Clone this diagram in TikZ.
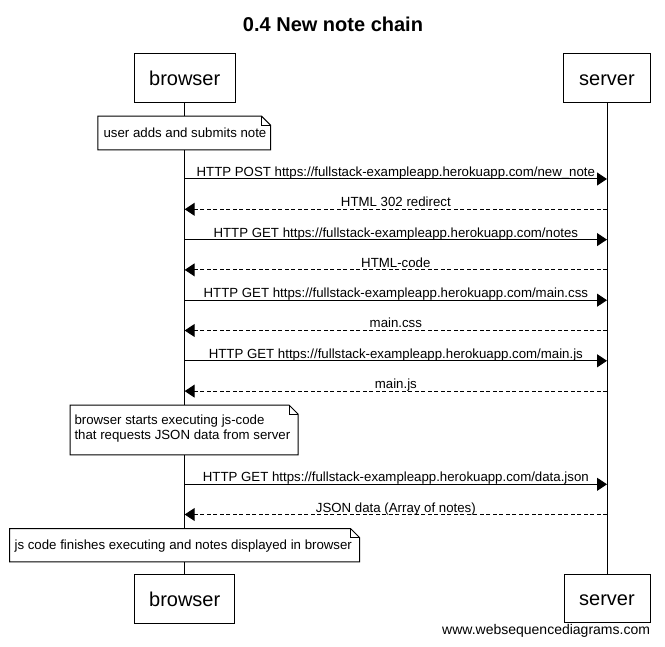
\documentclass[tikz,border=0pt]{standalone}
\usepackage{fontspec}
\setmainfont{Liberation Sans}
\usetikzlibrary{arrows.meta}
\begin{document}
\begin{tikzpicture}[x=1pt,y=-1pt,line width=1pt,
  actor/.style={draw,fill=white,inner sep=0pt,font=\fontsize{20}{24}\selectfont,text height=14.5pt,text depth=0pt},
  notebox/.style={inner sep=0pt},
  notetext/.style={inner sep=0pt,font=\fontsize{13.25}{15}\selectfont,align=left},
  notefill/.style={draw,fill=white},
  msg/.style={-{Triangle[length=10pt,width=13pt]}},
  reply/.style={msg,dash pattern=on 4pt off 2.5pt},
  lbl/.style={inner sep=0pt,anchor=base,font=\fontsize{13.25}{15}\selectfont},
  titlestyle/.style={inner sep=0pt,anchor=base,font=\bfseries\fontsize{20}{24}\selectfont},
  wmark/.style={inner sep=0pt,anchor=base east,font=\fontsize{14}{16}\selectfont}]
\useasboundingbox (0,0) rectangle (665,647);

\node[titlestyle] (title) at (333,31.3) {0.4 New note chain};

% participants
\node[actor,minimum width=101pt,minimum height=49pt] (bt) at (184.7,78.3) {browser};
\node[actor,minimum width=87pt,minimum height=49.5pt] (st) at (607,78) {server};
\node[actor,minimum width=100.5pt,minimum height=49pt] (bb) at (184.7,598.8) {browser};
\node[actor,minimum width=86pt,minimum height=48.7pt] (sb) at (607,598.4) {server};

% lifelines
\draw (bt) -- (bb);
\draw (st) -- (sb);

% message anchor points
\foreach \i/\yy in {1/179,2/209.3,3/239.6,4/269.9,5/300.2,6/330.5,7/360.8,8/391.1,9/484.3,10/514.5}{
  \coordinate (b\i) at (bt |- 0,\yy);
  \coordinate (s\i) at (st |- 0,\yy);
}

\draw[msg] (b1) -- (s1) node[lbl,midway,yshift=2.5pt] (m1) {HTTP POST https://fullstack-exampleapp.herokuapp.com/new\_note};
\draw[reply] (s2) -- (b2) node[lbl,midway,yshift=2.5pt] (m2) {HTML 302 redirect};
\draw[msg] (b3) -- (s3) node[lbl,midway,yshift=2.5pt] (m3) {HTTP GET https://fullstack-exampleapp.herokuapp.com/notes};
\draw[reply] (s4) -- (b4) node[lbl,midway,yshift=2.5pt] (m4) {HTML-code};
\draw[msg] (b5) -- (s5) node[lbl,midway,yshift=2.5pt] (m5) {HTTP GET https://fullstack-exampleapp.herokuapp.com/main.css};
\draw[reply] (s6) -- (b6) node[lbl,midway,yshift=2.5pt] (m6) {main.css};
\draw[msg] (b7) -- (s7) node[lbl,midway,yshift=2.5pt] (m7) {HTTP GET https://fullstack-exampleapp.herokuapp.com/main.js};
\draw[reply] (s8) -- (b8) node[lbl,midway,yshift=2.5pt] (m8) {main.js};
\draw[msg] (b9) -- (s9) node[lbl,midway,yshift=2.5pt] (m9) {HTTP GET https://fullstack-exampleapp.herokuapp.com/data.json};
\draw[reply] (s10) -- (b10) node[lbl,midway,yshift=2.5pt] (m10) {JSON data (Array of notes)};

% notes
\node[notebox,minimum width=171.7pt,minimum height=32.6pt] (n1) at (184.15,133) {};
\node[notebox,minimum width=227pt,minimum height=48.6pt] (n2) at (184.2,430) {};
\node[notebox,minimum width=349pt,minimum height=32.3pt] (n3) at (184.5,545.15) {};
\foreach \n in {n1,n2,n3}{
  \draw[notefill] (\n.south west) -- (\n.south east) -- ([yshift=-9pt]\n.north east)
     -- ([xshift=-9pt]\n.north east) -- (\n.north west) -- cycle;
  \draw ([xshift=-9pt]\n.north east) |- ([yshift=-9pt]\n.north east);
}
\node[notetext,anchor=base] (t1) at (185,137.3) {user adds and submits note};
\node[notetext,anchor=north west] (t2) at (74,414.1) {browser starts executing js-code\\that requests JSON data from server};
\node[notetext,anchor=base] (t3) at (183.3,549.3) {js code finishes executing and notes displayed in browser};

\node[wmark] (wm) at (650.5,634) {www.websequencediagrams.com};
\end{tikzpicture}
\end{document}
